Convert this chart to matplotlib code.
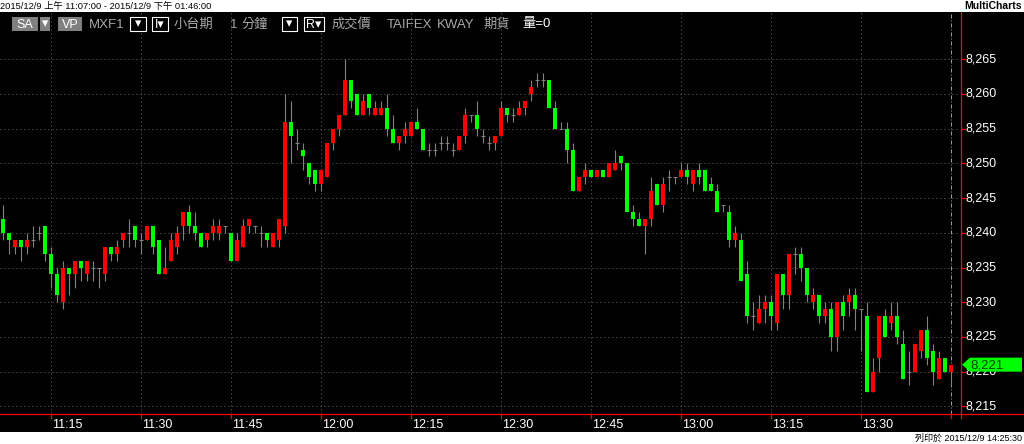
import numpy as np
import matplotlib
matplotlib.use("Agg")
import matplotlib.pyplot as plt
from matplotlib.patches import Rectangle, Polygon

# ---- 1-minute bars, MXF1, 2015/12/9 11:07 .. 13:45 ----
opens = [8242, 8240, 8238, 8239, 8238, 8239, 8240, 8241, 8237, 8234,
         8230, 8235, 8234, 8236, 8234, 8235, 8235, 8234, 8238, 8237,
         8239, 8240, 8241, 8239, 8239, 8241, 8239, 8234, 8236, 8238,
         8241, 8243, 8241, 8240, 8239, 8240, 8240, 8241, 8240, 8236,
         8238, 8241, 8241, 8240, 8240, 8238, 8239, 8241, 8256, 8253,
         8252, 8250, 8249, 8247, 8248, 8253, 8255, 8257, 8262, 8260,
         8257, 8260, 8257, 8257, 8258, 8255, 8253, 8254, 8254, 8256,
         8255, 8252, 8252, 8253, 8253, 8252, 8252, 8254, 8257, 8257,
         8254, 8253, 8253, 8254, 8258, 8257, 8257, 8258, 8260, 8262,
         8262, 8262, 8258, 8255, 8255, 8252, 8246, 8248, 8249, 8248,
         8249, 8248, 8249, 8251, 8250, 8243, 8242, 8241, 8242, 8247,
         8244, 8248, 8248, 8248, 8249, 8247, 8249, 8249, 8247, 8246,
         8244, 8243, 8239, 8239, 8234, 8228, 8227, 8229, 8230, 8227,
         8234, 8231, 8237, 8237, 8235, 8230, 8231, 8228, 8229, 8225,
         8230, 8230, 8231, 8229, 8228, 8217, 8222, 8228, 8227, 8228,
         8224, 8220, 8220, 8223, 8226, 8223, 8219, 8222, 8220]
highs = [8244, 8240, 8239, 8239, 8240, 8241, 8241, 8241, 8238, 8235,
         8236, 8235, 8236, 8236, 8236, 8236, 8235, 8238, 8238, 8239,
         8240, 8242, 8241, 8240, 8241, 8241, 8239, 8238, 8240, 8241,
         8243, 8244, 8243, 8240, 8240, 8242, 8242, 8241, 8240, 8240,
         8242, 8242, 8241, 8241, 8240, 8240, 8242, 8260, 8259, 8255,
         8253, 8250, 8249, 8249, 8253, 8255, 8257, 8265, 8262, 8260,
         8260, 8260, 8259, 8259, 8260, 8257, 8254, 8256, 8256, 8258,
         8255, 8253, 8253, 8254, 8254, 8253, 8254, 8258, 8257, 8259,
         8255, 8254, 8254, 8259, 8258, 8258, 8259, 8259, 8262, 8263,
         8263, 8262, 8259, 8256, 8256, 8253, 8248, 8250, 8249, 8249,
         8249, 8250, 8252, 8251, 8250, 8244, 8243, 8242, 8248, 8247,
         8248, 8249, 8248, 8250, 8250, 8249, 8250, 8249, 8248, 8247,
         8244, 8244, 8241, 8240, 8236, 8230, 8231, 8231, 8231, 8234,
         8234, 8237, 8238, 8238, 8235, 8232, 8231, 8230, 8230, 8230,
         8231, 8232, 8232, 8229, 8230, 8222, 8228, 8229, 8230, 8230,
         8226, 8223, 8224, 8226, 8228, 8224, 8223, 8222, 8221]
lows = [8239, 8237, 8237, 8236, 8237, 8238, 8239, 8236, 8232, 8230,
        8229, 8231, 8232, 8233, 8233, 8233, 8232, 8233, 8236, 8236,
        8238, 8238, 8238, 8237, 8239, 8237, 8234, 8234, 8236, 8237,
        8239, 8240, 8239, 8238, 8238, 8239, 8239, 8240, 8236, 8236,
        8238, 8240, 8240, 8238, 8238, 8238, 8238, 8240, 8250, 8252,
        8249, 8247, 8246, 8246, 8248, 8252, 8254, 8257, 8258, 8257,
        8257, 8257, 8257, 8257, 8254, 8253, 8252, 8253, 8254, 8255,
        8252, 8251, 8251, 8252, 8252, 8251, 8252, 8253, 8256, 8254,
        8253, 8252, 8252, 8254, 8256, 8256, 8257, 8257, 8259, 8261,
        8261, 8258, 8255, 8255, 8250, 8246, 8246, 8247, 8248, 8248,
        8248, 8248, 8249, 8249, 8243, 8241, 8241, 8237, 8241, 8244,
        8243, 8246, 8247, 8248, 8247, 8246, 8247, 8246, 8246, 8243,
        8243, 8238, 8238, 8233, 8227, 8226, 8227, 8227, 8226, 8226,
        8229, 8229, 8234, 8233, 8230, 8229, 8227, 8227, 8223, 8223,
        8226, 8228, 8226, 8223, 8217, 8217, 8220, 8225, 8226, 8224,
        8219, 8218, 8220, 8222, 8221, 8218, 8219, 8220, 8218]
closes = [8240, 8239, 8239, 8238, 8239, 8239, 8240, 8237, 8234, 8231,
          8235, 8234, 8236, 8235, 8236, 8235, 8235, 8238, 8237, 8238,
          8240, 8240, 8239, 8239, 8241, 8238, 8234, 8235, 8239, 8240,
          8243, 8241, 8240, 8238, 8240, 8241, 8241, 8241, 8236, 8239,
          8241, 8242, 8241, 8240, 8239, 8240, 8242, 8256, 8254, 8253,
          8251, 8248, 8247, 8249, 8253, 8255, 8257, 8262, 8259, 8257,
          8259, 8258, 8258, 8258, 8255, 8253, 8254, 8255, 8256, 8255,
          8252, 8252, 8252, 8253, 8253, 8252, 8254, 8257, 8257, 8255,
          8254, 8253, 8254, 8258, 8257, 8257, 8258, 8259, 8261, 8262,
          8262, 8258, 8255, 8255, 8252, 8246, 8248, 8249, 8248, 8249,
          8248, 8250, 8250, 8250, 8243, 8242, 8241, 8242, 8246, 8244,
          8247, 8248, 8248, 8249, 8248, 8249, 8248, 8246, 8246, 8243,
          8244, 8239, 8240, 8233, 8228, 8228, 8229, 8230, 8228, 8234,
          8231, 8237, 8237, 8235, 8231, 8231, 8228, 8229, 8225, 8230,
          8228, 8231, 8229, 8229, 8217, 8220, 8228, 8225, 8228, 8225,
          8219, 8220, 8224, 8226, 8222, 8220, 8222, 8220, 8221]

time_ticks = ["11:15", "11:30", "11:45", "12:00", "12:15",
              "12:30", "12:45", "13:00", "13:15", "13:30"]
price_ticks = [8215, 8220, 8225, 8230, 8235, 8240, 8245, 8250, 8255, 8260, 8265]
last_price = closes[-1]

LAT = "Liberation Sans"
CJK = ["Liberation Sans", "Noto Sans CJK TC", "DejaVu Sans"]
UP, DOWN, WICK, GRID = "#ff0000", "#00ff00", "#808080", "#6a6a6a"

W, H = 1024, 444
fig = plt.figure(figsize=(W / 100, H / 100), dpi=100)
fig.patch.set_facecolor("white")
# black chart panel (below all axes)
fig.add_artist(Rectangle((0, 1 - 432 / H), 1, 420 / H, transform=fig.transFigure,
                         facecolor="black", edgecolor="none", zorder=-5))

# data axes: pixel x = 3.3 + 6*bar, price axis 6.94 px / point
x_right, y_top, y_bot = 960, 12, 414
ax = fig.add_axes([0, 1 - y_bot / H, x_right / W, (y_bot - y_top) / H])
ax.set_facecolor("none")
for s in ax.spines.values():
    s.set_visible(False)
ax.set_xticks([]); ax.set_yticks([])
n = len(closes)
ax.set_xlim(-3.3 / 6, (x_right - 3.3) / 6)
ppp = 6.94
ax.set_ylim(8265 - (y_bot - 59.3) / ppp, 8265 + (59.3 - y_top) / ppp)

dot = (0, (1, 3))
for p in price_ticks:
    ax.axhline(p, color=GRID, lw=0.72, ls=dot, zorder=0)
tick_idx = [8 + 15 * k for k in range(len(time_ticks))]
for i in tick_idx:
    ax.axvline(i, color=GRID, lw=0.72, ls=dot, zorder=0)
end_idx = tick_idx[-1] + 15
ax.axvline(end_idx, color="#9a9a9a", lw=0.72, ls=(0, (4, 2, 1, 2)), zorder=0)

o, h, l, c = (np.array(a, float) for a in (opens, highs, lows, closes))
idx = np.arange(n)
ax.vlines(idx, l, h, color=WICK, lw=0.8, zorder=2)
up = c > o
dn = c < o
eq = c == o
bw = 0.65
ax.bar(idx[up], (c - o)[up], bottom=o[up], width=bw, color=UP, lw=0, zorder=3)
ax.bar(idx[dn], (o - c)[dn], bottom=c[dn], width=bw, color=DOWN, lw=0, zorder=3)
ax.hlines(c[eq], idx[eq] - bw / 2, idx[eq] + bw / 2, color=WICK, lw=0.8, zorder=3)

# overlay in pixel coordinates for the axes furniture
ov = fig.add_axes([0, 0, 1, 1], zorder=5)
ov.set_xlim(0, W); ov.set_ylim(H, 0)
ov.axis("off")
ov.patch.set_alpha(0)

ov.plot([960.5, 960.5], [12, 418], color="#ff0000", lw=0.9)
ov.plot([0, W], [414, 414], color="#ff0000", lw=0.9)

def py(p):
    return 59.3 + (8265 - p) * ppp

for p in price_ticks:
    ov.plot([961, 965], [py(p), py(p)], color="#ff0000", lw=0.9)
    ov.text(966, py(p), f"{p:,}", color="white", fontsize=9, family=LAT,
            ha="left", va="center", zorder=4)
for i, lab in zip(tick_idx + [end_idx], time_ticks + [None]):
    xp = 3.3 + 6 * i
    ov.plot([xp, xp], [414, 418], color="#ff0000", lw=0.9)
    if lab:
        ov.text(xp + 0.5, 425, lab, color="white", fontsize=9, family=LAT,
                ha="left", va="center")

# last price marker (covers the upper half of the 8,220 label, as in MultiCharts)
yl = py(last_price)
ov.add_patch(Polygon([(962, yl), (970, yl - 7), (1022, yl - 7), (1022, yl + 7),
                      (970, yl + 7)], closed=True, facecolor="#00ff00",
                     edgecolor="none", zorder=5.5))
ov.text(970.5, yl + 0.5, f"{last_price:,}", color="#004000", fontsize=9.5,
        family=LAT, ha="left", va="center", zorder=7)

# toolbar row
def box(x0, x1, fill, txt, outline=False):
    ov.add_patch(Rectangle((x0, 17.5), x1 - x0, 13.5,
                           facecolor=fill, edgecolor="white" if outline else "none",
                           lw=0.8))
    ov.text((x0 + x1) / 2, 24.5, txt, color="white", fontsize=9, family=CJK,
            ha="center", va="center")

box(12, 38, "#808080", "SA")
box(39.5, 50, "#808080", "▾")
box(58, 82, "#808080", "VP")
box(129.5, 146, "black", "▾", outline=True)
box(152, 168, "black", "I▾", outline=True)
box(281.5, 297, "black", "▾", outline=True)
box(303.5, 324, "black", "R▾", outline=True)
GRAYTXT = "#a8a8a8"
for xt, t in [(89, "MXF1"), (174, "小台期"), (230, "1"), (242, "分鐘"),
              (332, "成交價"), (387, "TAIFEX"), (437, "KWAY"), (484, "期貨")]:
    ov.text(xt, 24.5, t, color=GRAYTXT, fontsize=9.5, family=CJK,
            ha="left", va="center")
ov.text(522, 24.5, "量=0", color="white", fontsize=9.5, family=CJK,
        ha="left", va="center")

# header / footer strips
ov.text(0, 6, "2015/12/9 上午 11:07:00 - 2015/12/9 下午 01:46:00", color="black",
        fontsize=6.7, family=CJK, ha="left", va="center")
ov.text(1022, 6, "MultiCharts", color="black", fontsize=7.5, family=LAT,
        fontweight="bold", ha="right", va="center")
ov.text(1022, 438, "列印於 2015/12/9 14:25:30", color="black", fontsize=6.5,
        family=CJK, ha="right", va="center")

fig.savefig("out.png", dpi=100, facecolor="white")
